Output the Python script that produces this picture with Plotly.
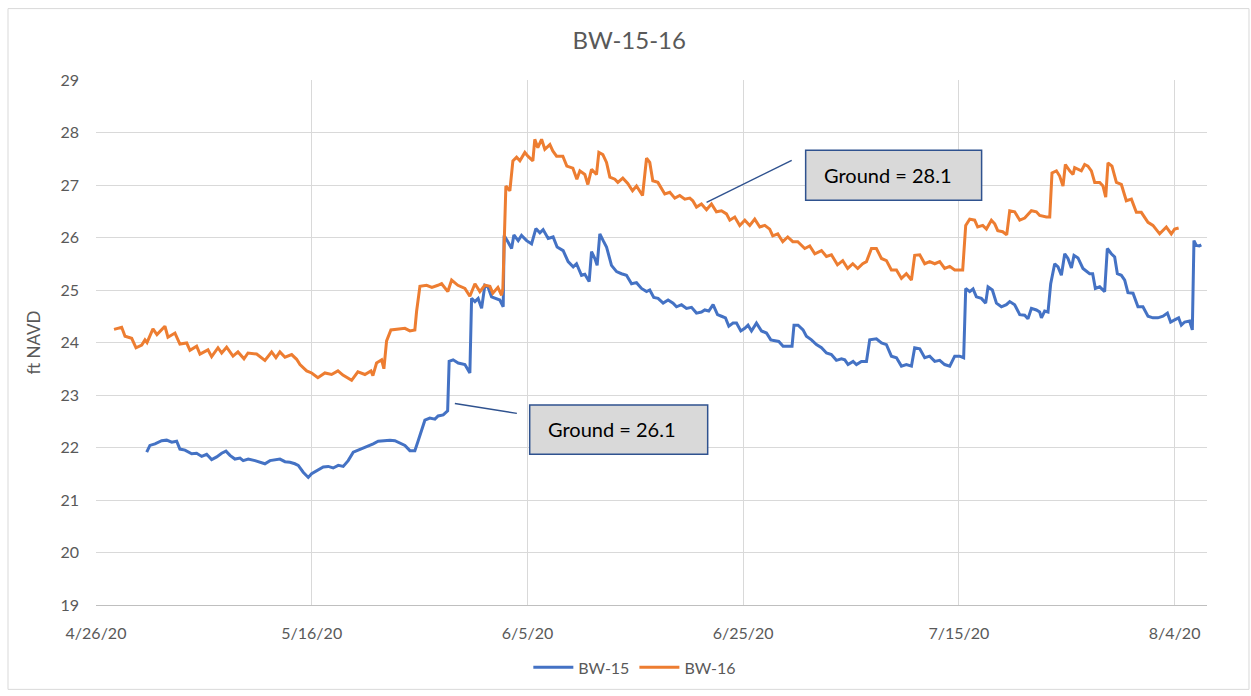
import pandas as pd
import plotly.graph_objects as go

START = "2020-04-26"

# BW-15: days after START, water level (ft NAVD)
BW15_DAYS = [4.70, 5.00, 5.47, 6.09, 6.55, 7.02, 7.48, 7.78, 8.25, 8.87, 9.33, 9.80, 10.26, 10.72,
             11.19, 11.65, 12.05, 12.42, 12.88, 13.35, 13.65, 14.11, 14.74, 15.20, 15.66, 16.13,
             16.59, 17.05, 17.52, 17.98, 18.44, 18.75, 19.21, 19.68, 19.99, 20.60, 21.07, 21.53,
             21.99, 22.46, 22.92, 23.38, 23.85, 24.31, 24.77, 25.24, 25.70, 26.16, 26.78, 27.25,
             27.71, 28.17, 28.64, 29.10, 29.56, 29.87, 30.19, 30.49, 30.95, 31.42, 31.72, 32.19,
             32.60, 32.74, 33.11, 33.58, 34.20, 34.66, 34.82, 35.13, 35.43, 35.75, 36.05, 36.33,
             36.67, 37.14, 37.44, 37.75, 37.84, 38.21, 38.53, 38.74, 39.14, 39.45, 39.92, 40.38,
             40.78, 41.15, 41.45, 41.92, 42.38, 42.75, 43.31, 43.77, 44.24, 44.55, 45.01, 45.32,
             45.72, 45.94, 46.25, 46.46, 46.71, 47.02, 47.33, 47.79, 48.26, 48.72, 49.18, 49.65,
             50.11, 50.57, 51.04, 51.34, 51.71, 52.11, 52.58, 53.04, 53.50, 53.82, 54.28, 54.74,
             55.21, 55.67, 56.13, 56.44, 56.81, 57.21, 57.62, 57.99, 58.36, 58.67, 59.06, 59.38,
             59.78, 60.15, 60.45, 60.77, 61.23, 61.70, 62.16, 62.56, 62.93, 63.30, 63.70, 64.16,
             64.53, 64.71, 65.09, 65.55, 65.86, 66.33, 66.79, 67.26, 67.72, 68.18, 68.64, 69.11,
             69.42, 69.72, 70.19, 70.50, 70.96, 71.43, 71.73, 72.35, 72.82, 73.28, 73.74, 74.21,
             74.67, 75.13, 75.60, 75.90, 76.37, 76.83, 77.29, 77.76, 78.22, 78.68, 79.15, 79.61,
             80.07, 80.44, 80.63, 81.00, 81.31, 81.62, 82.08, 82.48, 82.70, 83.10, 83.48, 83.94,
             84.40, 84.71, 85.17, 85.64, 86.10, 86.40, 86.72, 87.18, 87.49, 87.65, 87.95, 88.26,
             88.51, 88.88, 89.19, 89.50, 89.81, 90.11, 90.43, 90.67, 91.04, 91.50, 91.81, 92.12,
             92.40, 92.65, 93.05, 93.51, 93.76, 94.13, 94.44, 94.69, 95.06, 95.37, 95.67, 96.14,
             96.60, 97.06, 97.53, 97.99, 98.45, 98.92, 99.33, 99.63, 100.00, 100.37, 100.62,
             100.93, 101.39, 101.64, 101.79, 102.01, 102.29, 102.47]
BW15_FT = [21.91, 22.04, 22.07, 22.13, 22.14, 22.10, 22.12, 21.97, 21.95, 21.88, 21.89, 21.83, 21.87,
           21.77, 21.82, 21.89, 21.93, 21.85, 21.78, 21.80, 21.75, 21.78, 21.75, 21.72, 21.69, 21.75,
           21.77, 21.78, 21.73, 21.72, 21.69, 21.66, 21.53, 21.43, 21.50, 21.57, 21.63, 21.64, 21.61,
           21.66, 21.64, 21.75, 21.91, 21.95, 21.99, 22.02, 22.07, 22.12, 22.13, 22.14, 22.13, 22.08,
           22.04, 21.94, 21.94, 22.13, 22.35, 22.52, 22.56, 22.54, 22.60, 22.62, 22.70, 23.64, 23.67,
           23.61, 23.58, 23.42, 24.84, 24.78, 24.84, 24.65, 25.09, 25.06, 24.87, 24.84, 24.81, 24.68,
           26.04, 25.91, 25.79, 26.05, 25.94, 26.04, 25.94, 25.88, 26.17, 26.09, 26.15, 25.98, 26.01,
           25.82, 25.75, 25.54, 25.44, 25.50, 25.28, 25.30, 25.16, 25.73, 25.60, 25.47, 26.07, 25.94,
           25.82, 25.47, 25.35, 25.31, 25.28, 25.12, 25.14, 25.03, 24.97, 25.00, 24.86, 24.84, 24.75,
           24.81, 24.75, 24.68, 24.72, 24.65, 24.67, 24.56, 24.58, 24.62, 24.60, 24.72, 24.53, 24.50,
           24.47, 24.31, 24.37, 24.37, 24.22, 24.27, 24.33, 24.22, 24.37, 24.22, 24.18, 24.05, 24.03,
           24.02, 23.93, 23.93, 23.93, 24.33, 24.33, 24.24, 24.12, 24.05, 23.96, 23.90, 23.80, 23.77,
           23.66, 23.69, 23.67, 23.58, 23.64, 23.58, 23.64, 23.64, 24.05, 24.07, 23.99, 23.96, 23.74,
           23.71, 23.55, 23.58, 23.55, 23.90, 23.88, 23.71, 23.74, 23.64, 23.66, 23.58, 23.55, 23.74,
           23.74, 23.71, 25.03, 24.97, 25.02, 24.87, 24.84, 24.75, 25.06, 25.00, 24.75, 24.68, 24.72,
           24.78, 24.72, 24.53, 24.52, 24.45, 24.65, 24.62, 24.58, 24.47, 24.60, 24.58, 25.12, 25.50,
           25.44, 25.28, 25.69, 25.60, 25.42, 25.66, 25.61, 25.41, 25.36, 25.31, 25.31, 25.03, 25.06,
           24.97, 25.79, 25.69, 25.63, 25.31, 25.28, 25.19, 24.95, 24.94, 24.68, 24.68, 24.50, 24.47,
           24.47, 24.50, 24.56, 24.39, 24.43, 24.47, 24.33, 24.39, 24.41, 24.24, 25.94, 25.85, 25.84,
           25.86]

# BW-16: days after START, water level (ft NAVD)
BW16_DAYS = [1.67, 2.38, 2.69, 3.31, 3.71, 4.24, 4.54, 4.73, 5.28, 5.65, 6.39, 6.67, 7.32, 7.78, 8.41,
             8.71, 9.33, 9.64, 10.38, 10.72, 11.31, 11.65, 12.11, 12.70, 13.16, 13.72, 14.09, 14.89,
             15.66, 16.28, 16.68, 17.05, 17.52, 18.14, 18.60, 18.91, 19.53, 19.99, 20.57, 21.22,
             21.84, 22.43, 22.89, 23.70, 24.28, 24.93, 25.49, 25.67, 26.01, 26.48, 26.69, 26.94,
             27.34, 27.99, 28.64, 29.10, 29.56, 29.72, 30.03, 30.65, 31.14, 31.70, 32.04, 32.62,
             32.97, 33.55, 34.20, 34.66, 35.13, 35.59, 36.05, 36.52, 36.79, 37.26, 37.60, 37.72,
             38.00, 38.37, 38.65, 38.99, 39.30, 39.76, 40.04, 40.50, 40.68, 40.96, 41.31, 41.61,
             42.08, 42.35, 42.70, 43.28, 43.65, 44.21, 44.58, 44.86, 45.32, 45.60, 45.94, 46.40,
             46.62, 46.99, 47.33, 47.64, 48.10, 48.38, 48.84, 49.30, 49.74, 50.11, 50.67, 51.04,
             51.34, 51.62, 52.09, 52.73, 53.20, 53.66, 54.12, 54.59, 55.05, 55.33, 55.67, 56.13,
             56.60, 57.06, 57.52, 57.99, 58.45, 58.76, 59.22, 59.68, 60.15, 60.61, 61.07, 61.54,
             62.00, 62.46, 62.74, 63.21, 63.67, 64.13, 64.60, 65.06, 65.71, 66.17, 66.64, 67.26,
             67.72, 68.18, 68.74, 69.23, 69.69, 70.16, 70.62, 71.08, 71.43, 71.89, 72.35, 72.82,
             73.28, 73.74, 74.21, 74.67, 75.13, 75.60, 75.90, 76.37, 76.83, 77.29, 77.76, 78.22,
             78.68, 79.15, 79.61, 80.35, 80.63, 81.00, 81.46, 81.74, 82.21, 82.55, 83.01, 83.32,
             83.60, 84.06, 84.43, 84.71, 85.17, 85.64, 86.10, 86.72, 87.18, 87.49, 88.11, 88.42,
             88.63, 89.04, 89.34, 89.65, 89.87, 90.27, 90.58, 90.73, 91.35, 91.66, 91.96, 92.28,
             92.59, 93.05, 93.36, 93.61, 93.82, 94.19, 94.60, 95.06, 95.52, 95.99, 96.45, 96.91,
             97.53, 97.99, 98.61, 99.23, 99.69, 100.00, 100.37]
BW16_FT = [24.25, 24.29, 24.12, 24.08, 23.90, 23.95, 24.05, 24.00, 24.26, 24.15, 24.31, 24.10, 24.18,
           23.97, 23.99, 23.85, 23.93, 23.78, 23.86, 23.73, 23.90, 23.80, 23.91, 23.74, 23.82, 23.69,
           23.80, 23.78, 23.66, 23.82, 23.71, 23.82, 23.72, 23.77, 23.68, 23.58, 23.46, 23.42, 23.33,
           23.42, 23.39, 23.46, 23.38, 23.28, 23.44, 23.39, 23.46, 23.37, 23.61, 23.67, 23.50, 24.03,
           24.24, 24.26, 24.27, 24.22, 24.24, 24.59, 25.07, 25.09, 25.05, 25.09, 25.12, 24.97, 25.19,
           25.09, 25.03, 24.88, 25.12, 24.97, 25.09, 25.07, 24.94, 25.05, 24.90, 25.03, 26.98, 26.89,
           27.46, 27.53, 27.46, 27.62, 27.55, 27.46, 27.87, 27.71, 27.87, 27.68, 27.77, 27.65, 27.55,
           27.55, 27.36, 27.32, 27.11, 27.27, 27.20, 27.01, 27.30, 27.20, 27.62, 27.58, 27.43, 27.15,
           27.11, 27.05, 27.13, 27.03, 26.89, 26.98, 26.80, 27.51, 27.43, 27.08, 27.05, 26.83, 26.86,
           26.75, 26.80, 26.73, 26.75, 26.70, 26.58, 26.64, 26.53, 26.64, 26.49, 26.51, 26.45, 26.33,
           26.39, 26.23, 26.33, 26.23, 26.35, 26.20, 26.23, 26.16, 26.03, 26.07, 25.92, 26.01, 25.92,
           25.92, 25.79, 25.84, 25.69, 25.75, 25.64, 25.67, 25.48, 25.56, 25.41, 25.50, 25.41, 25.50,
           25.54, 25.79, 25.79, 25.60, 25.56, 25.38, 25.38, 25.22, 25.31, 25.19, 25.66, 25.67, 25.50,
           25.54, 25.50, 25.54, 25.41, 25.45, 25.38, 25.38, 26.23, 26.35, 26.33, 26.20, 26.23, 26.16,
           26.33, 26.26, 26.13, 26.11, 26.05, 26.51, 26.49, 26.33, 26.37, 26.51, 26.49, 26.42, 26.39,
           26.39, 27.23, 27.27, 27.17, 26.98, 27.39, 27.27, 27.20, 27.33, 27.27, 27.39, 27.36, 27.27,
           27.05, 27.05, 26.98, 26.77, 27.42, 27.36, 27.05, 27.01, 26.70, 26.73, 26.48, 26.48, 26.29,
           26.23, 26.07, 26.20, 26.07, 26.16, 26.18]

TICK_DATES = ["2020-04-26", "2020-05-16", "2020-06-05", "2020-06-25", "2020-07-15", "2020-08-04"]
TICK_LABELS = ["4/26/20", "5/16/20", "6/5/20", "6/25/20", "7/15/20", "8/4/20"]
X_RANGE = ["2020-04-26", "2020-08-07"]
Y_TICKS = list(range(19, 30))

# Callouts: text, text anchor (date, level), box corners, leader line ends
CALLOUTS = [
    {"text": "Ground = 28.1", "tx": "2020-07-02 07:00", "ty": 27.19,
     "box": ("2020-06-30 19:00", 26.71, "2020-07-17 02:30", 27.66),
     "lead": ("2020-06-29 12:00", 27.47, "2020-06-21 14:30", 26.67)},
    {"text": "Ground = 26.1", "tx": "2020-06-06 17:00", "ty": 22.35,
     "box": ("2020-06-05 05:00", 21.87, "2020-06-21 17:00", 22.81),
     "lead": ("2020-05-29 06:30", 22.84, "2020-06-04 00:30", 22.65)},
]

start = pd.Timestamp(START)


def to_time(days):
    return [start + pd.Timedelta(days=d) for d in days]


FONT = "Lato"
GRAY = "#595959"
GRID = "#D9D9D9"
OUTLINE = "#2F528F"

fig = go.Figure()
fig.add_trace(go.Scatter(x=to_time(BW15_DAYS), y=BW15_FT, mode="lines", name="BW-15",
                         line=dict(color="#4472C4", width=3)))
fig.add_trace(go.Scatter(x=to_time(BW16_DAYS), y=BW16_FT, mode="lines", name="BW-16",
                         line=dict(color="#ED7D31", width=3)))

shapes = []
annotations = []
for c in CALLOUTS:
    x0, y0, x1, y1 = c["box"]
    shapes.append(dict(type="rect", xref="x", yref="y", x0=x0, y0=y0, x1=x1, y1=y1,
                       fillcolor="#D9D9D9", line=dict(color=OUTLINE, width=1.5), layer="above"))
    lx0, ly0, lx1, ly1 = c["lead"]
    shapes.append(dict(type="line", xref="x", yref="y", x0=lx0, y0=ly0, x1=lx1, y1=ly1,
                       line=dict(color=OUTLINE, width=1.5), layer="above"))
    annotations.append(dict(x=c["tx"], y=c["ty"], xref="x", yref="y", text=c["text"],
                            showarrow=False, xanchor="left", yanchor="middle",
                            font=dict(family=FONT, size=20, color="#000000")))

# chart-area border
shapes.append(dict(type="rect", xref="paper", yref="paper", x0=-0.0792, x1=1.0378,
                   y0=-0.1607, y1=1.136, line=dict(color=GRID, width=1), fillcolor="rgba(0,0,0,0)",
                   layer="below"))

annotations.append(dict(x=-0.0567, y=0.5, xref="paper", yref="paper", text="ft NAVD",
                        textangle=-90, showarrow=False, xanchor="center", yanchor="middle",
                        font=dict(family=FONT, size=17, color=GRAY)))

fig.update_layout(
    width=1251, height=696,
    margin=dict(l=96, r=44, t=80, b=87),
    paper_bgcolor="white", plot_bgcolor="white",
    title=dict(text="BW-15-16", x=0.503, xanchor="center", y=1 - 41 / 696, yanchor="middle",
               font=dict(family=FONT, size=24, color=GRAY)),
    font=dict(family=FONT, size=16, color=GRAY),
    showlegend=True,
    legend=dict(orientation="h", x=0.485, xanchor="center", y=-0.119, yanchor="middle",
                font=dict(family=FONT, size=16, color=GRAY), itemwidth=40),
    shapes=shapes, annotations=annotations,
)
fig.update_xaxes(type="date", range=X_RANGE, tickvals=TICK_DATES, ticktext=TICK_LABELS,
                 showgrid=True, gridcolor=GRID, gridwidth=1.3, showline=True, linecolor="#BFBFBF",
                 linewidth=1.3, ticks="", ticklabelstandoff=14, zeroline=False,
                 tickfont=dict(family=FONT, size=16, color=GRAY))
fig.update_yaxes(range=[19, 29], tickvals=Y_TICKS, showgrid=True, gridcolor=GRID, gridwidth=1.3,
                 zeroline=False, showline=False, ticks="", ticklabelstandoff=16,
                 tickfont=dict(family=FONT, size=16, color=GRAY))

fig.write_html("out.html", config={"displayModeBar": False},
               post_script="document.body.style.margin='0';")
